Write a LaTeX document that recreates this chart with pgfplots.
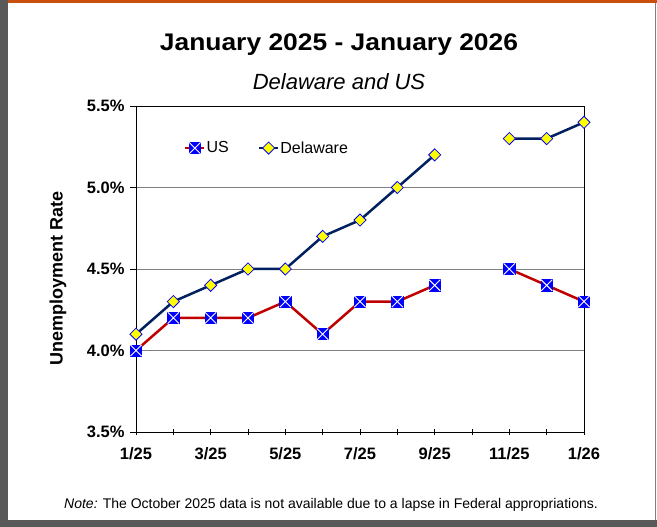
\documentclass[border=0pt]{standalone}
\usepackage{fontspec}
\setmainfont{Liberation Sans}
\newfontfamily\titlefont[FakeStretch=1.1]{Liberation Sans}
\usepackage{pgfplots}
\pgfplotsset{compat=1.18}
\definecolor{usred}{HTML}{C00000}
\definecolor{denavy}{HTML}{002060}
\definecolor{mkblue}{HTML}{0000FF}
\definecolor{mkyellow}{HTML}{FFFF00}
\definecolor{framegray}{HTML}{595959}
\definecolor{frameorange}{HTML}{C8500C}
\pgfdeclareplotmark{sqx}{%
  \pgfpathrectangle{\pgfpoint{-\pgfplotmarksize}{-\pgfplotmarksize}}{\pgfpoint{2\pgfplotmarksize}{2\pgfplotmarksize}}%
  \pgfsetfillcolor{mkblue}\pgfsetstrokecolor{mkblue}\pgfsetlinewidth{0.6pt}%
  \pgfusepath{fill,stroke}%
  \pgfsetstrokecolor{white}\pgfsetlinewidth{0.9pt}%
  \pgfpathmoveto{\pgfpoint{-\pgfplotmarksize}{-\pgfplotmarksize}}%
  \pgfpathlineto{\pgfpoint{\pgfplotmarksize}{\pgfplotmarksize}}%
  \pgfpathmoveto{\pgfpoint{-\pgfplotmarksize}{\pgfplotmarksize}}%
  \pgfpathlineto{\pgfpoint{\pgfplotmarksize}{-\pgfplotmarksize}}%
  \pgfusepath{stroke}}
\begin{document}
\begin{tikzpicture}[x=1pt,y=1pt]
\fill[white] (0,0) rectangle (657,527);
\fill[framegray] (0,0) rectangle (8,527);
\fill[framegray] (0,0) rectangle (657,7);
\fill[frameorange] (8,523.5) rectangle (657,527);
\draw[gray,line width=0.8pt] (655.5,7) -- (655.5,523.5);
\node[font=\titlefont\bfseries\fontsize{24}{28}\selectfont] at (339,482) {January 2025 - January 2026};
\node[font=\itshape\fontsize{22}{26}\selectfont] at (339,445) {Delaware and US};
\node[font=\fontsize{14}{16}\selectfont] at (331,22) {\textit{Note:} The October 2025 data is not available due to a lapse in Federal appropriations.};
\begin{axis}[
  at={(136pt,95pt)}, anchor=south west,
  scale only axis, width=448pt, height=326pt,
  xmin=0, xmax=12, ymin=3.5, ymax=5.5,
  xtick={0,...,12},
  xticklabels={1/25,{},3/25,{},5/25,{},7/25,{},9/25,{},11/25,{},1/26},
  ytick={3.5,4.0,4.5,5.0,5.5},
  yticklabel={\pgfmathprintnumber[fixed,fixed zerofill,precision=1]{\tick}\%},
  /pgf/number format/assume math mode=true,
  ticklabel style={font=\bfseries\fontsize{16.5}{19}\selectfont},
  xticklabel style={yshift=-9pt},
  yticklabel style={xshift=-2pt},
  xtick style={black, line width=0.8pt},
  ytick style={black, line width=0.8pt},
  major tick length=6pt,
  xtick align=center,
  ytick align=outside,
  tick pos=left,
  axis line style={black, line width=0.8pt},
  ymajorgrids,
  grid style={gray, line width=0.8pt},
  ylabel={Unemployment Rate},
  ylabel style={font=\bfseries\fontsize{18}{20}\selectfont, at={(axis description cs:-0.174,0.47)}, anchor=center},
  unbounded coords=jump,
  clip=false,
  legend columns=2,
  legend style={draw=none, fill=none, at={(0.107,0.871)}, anchor=west,
    font=\fontsize{16}{19}\selectfont, inner xsep=0pt,
    nodes={inner xsep=1pt},
    /tikz/every odd column/.append style={column sep=0pt},
    /tikz/every even column/.append style={column sep=28pt}},
  legend image code/.code={%
    \draw[#1,mark=none] (0pt,0pt) -- (19pt,0pt);
    \draw[#1,only marks] plot coordinates {(9.5pt,0pt)};},
]
\addplot[usred, line width=2.5pt, mark=sqx, mark size=5.6pt, mark options={solid}]
 coordinates {(0,4.0) (1,4.2) (2,4.2) (3,4.2) (4,4.3) (5,4.1) (6,4.3) (7,4.3) (8,4.4) (9,nan) (10,4.5) (11,4.4) (12,4.3)};
\addlegendentry{US}
\addplot[denavy, line width=2.5pt, mark=square*, mark size=4.3pt, mark options={rotate=45, fill=mkyellow, draw=mkblue, line width=0.8pt}]
 coordinates {(0,4.1) (1,4.3) (2,4.4) (3,4.5) (4,4.5) (5,4.7) (6,4.8) (7,5.0) (8,5.2) (9,nan) (10,5.3) (11,5.3) (12,5.4)};
\addlegendentry{Delaware}
\draw[black, line width=0.8pt] (rel axis cs:0,1) -- (rel axis cs:1,1) -- (rel axis cs:1,0);
\end{axis}
\end{tikzpicture}
\end{document}
